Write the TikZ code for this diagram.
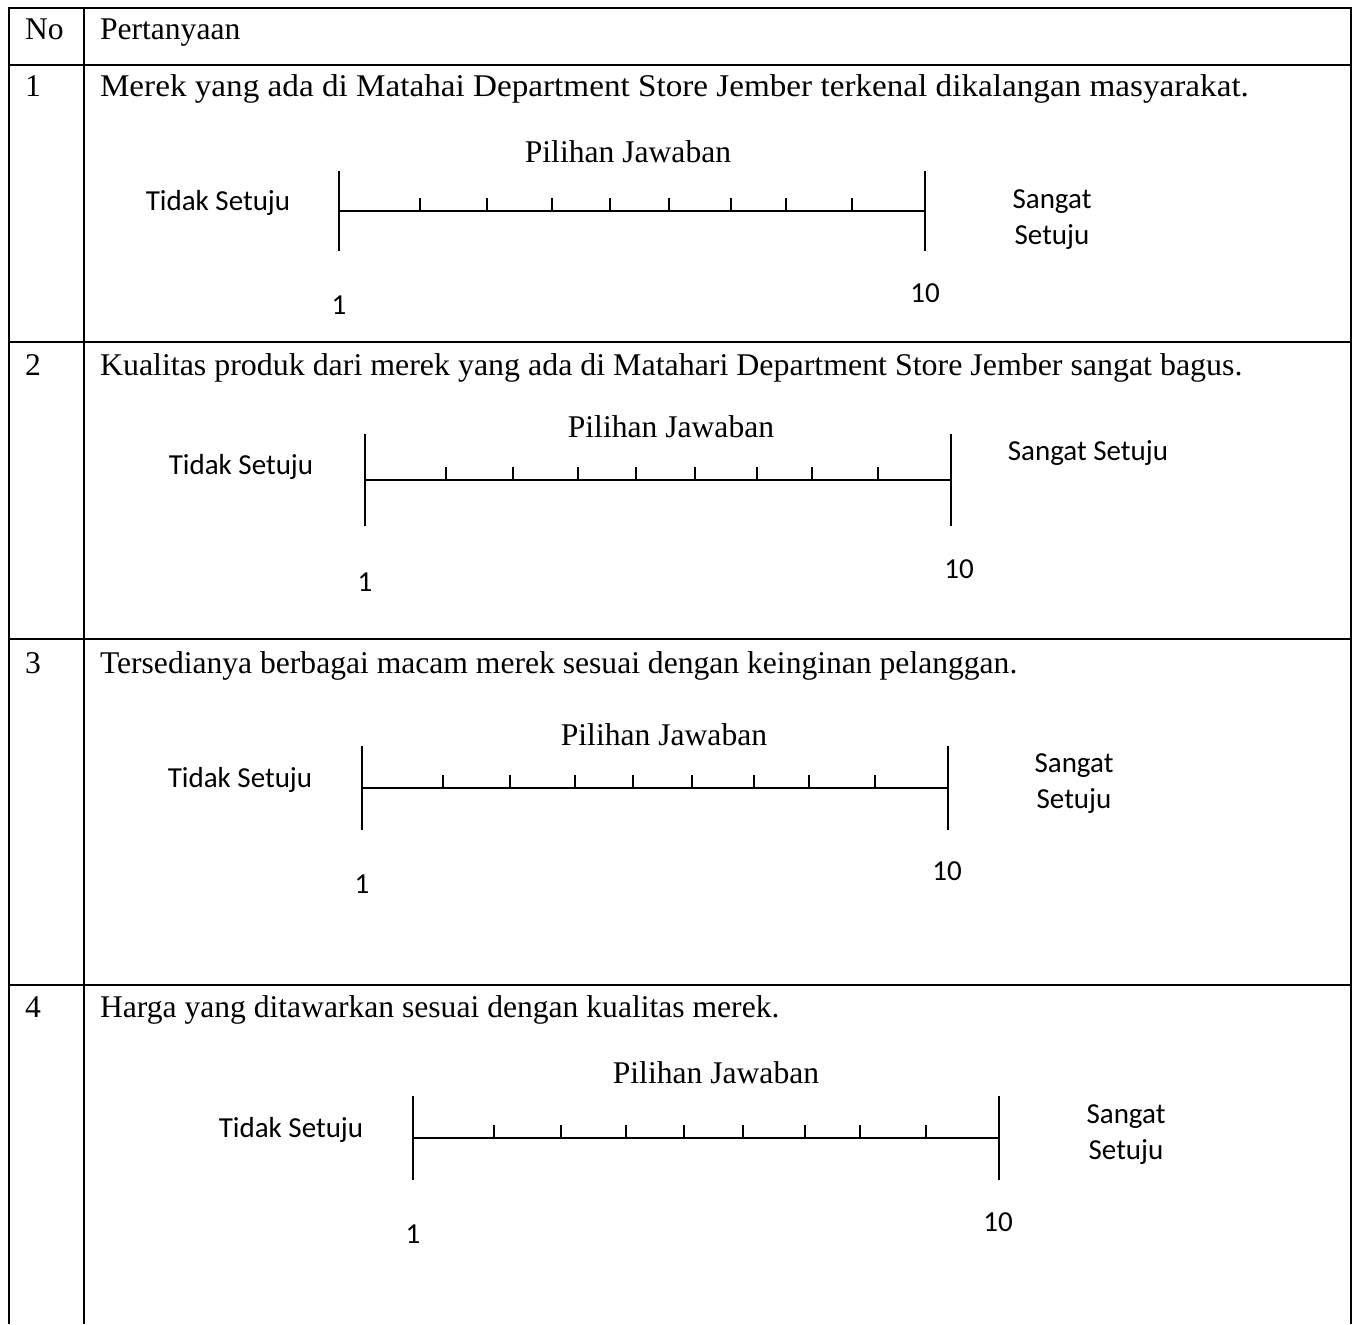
\documentclass[tikz,border=0pt]{standalone}
\usepackage{fontspec}
\usepackage{graphicx}
\setmainfont{Liberation Serif}
\newfontfamily\calfont{Carlito}
\newcommand\likertrow[4]{% #1 id, #2 left x, #3 axis y, #4 half-height of end bars
  \coordinate (#1L) at (#2,#3);
  \coordinate (#1R) at ({#2+586},#3);
  \coordinate (#1Lt) at (#2,{#3-#4});
  \coordinate (#1Lb) at (#2,{#3+#4});
  \coordinate (#1Rt) at ({#2+586},{#3-#4});
  \coordinate (#1Rb) at ({#2+586},{#3+#4});
  \draw[axisline] (#1L) -- (#1R);
  \draw[axisline] (#1Lt) -- (#1Lb);
  \draw[axisline] (#1Rt) -- (#1Rb);
  \foreach \o in {81,148,213,271,330,392,447,513}{
    \draw[tickmark] ({#2+\o},#3) -- ({#2+\o},{#3-13});
  }
}
\begin{document}
\begin{tikzpicture}[x=1pt,y=-1pt,
  every node/.style={inner sep=0pt, outer sep=0pt},
  tnr/.style={font=\fontsize{31.6}{38}\selectfont, anchor=base west},
  tnrc/.style={font=\fontsize{31.6}{38}\selectfont, anchor=base},
  cal/.style={font=\calfont\fontsize{29}{36}\selectfont, anchor=base},
  calml/.style={font=\calfont\fontsize{29}{36}\selectfont, align=center, anchor=center},
  tableline/.style={line width=2.3pt},
  axisline/.style={line width=1.8pt},
  tickmark/.style={line width=1.5pt}]
\useasboundingbox (0,0) rectangle (1356,1324);
\fill[white] (0,0) rectangle (1356,1324);
% table
\coordinate (TLb) at (9,1324);
\coordinate (TLt) at (9,8);
\coordinate (TRt) at (1351,8);
\coordinate (TRb) at (1351,1324);
\coordinate (Dt) at (84,8);
\coordinate (Db) at (84,1324);
\draw[tableline, line join=miter] (TLb) -- (TLt) -- (TRt) -- (TRb);
\draw[tableline] (Dt) -- (Db);
\foreach \yy/\nm in {65/h0,342/h1,639/h2,985/h3}{
  \coordinate (\nm a) at (9,\yy);
  \coordinate (\nm b) at (1351,\yy);
  \draw[tableline] (\nm a) -- (\nm b);
}
% header
\node[tnr] (hno) at (25,40) {No};
\node[tnr] (hq) at (100,40) {Pertanyaan};
% row numbers and questions
\node[tnr] (n1) at (25,97) {1};
\node[tnr] (q1) at (100,97) {\scalebox{1.05}[1]{Merek yang ada di Matahai Department Store Jember terkenal dikalangan masyarakat.}};
\node[tnr] (n2) at (25,375) {2};
\node[tnr] (q2) at (100,375) {\scalebox{1.01}[1]{Kualitas produk dari merek yang ada di Matahari Department Store Jember sangat bagus.}};
\node[tnr] (n3) at (25,673) {3};
\node[tnr] (q3) at (100,673) {Tersedianya berbagai macam merek sesuai dengan keinginan pelanggan.};
\node[tnr] (n4) at (25,1017) {4};
\node[tnr] (q4) at (100,1017) {Harga yang ditawarkan sesuai dengan kualitas merek.};
% row 1 scale
\likertrow{a}{339}{211}{40}
\node[tnrc] (pa) at (628,163) {Pilihan Jawaban};
\node[cal] (ta) at (218,211) {Tidak Setuju};
\node[calml] (sa) at (1052,220) {Sangat\\Setuju};
\node[cal] (oa) at (339,314) {1};
\node[cal] (za) at (925,302) {10};
% row 2 scale
\likertrow{b}{365}{480}{46}
\node[tnrc] (pb) at (671,437) {Pilihan Jawaban};
\node[cal] (tb) at (241,474) {Tidak Setuju};
\node[cal] (sb) at (1088,460) {Sangat Setuju};
\node[cal] (ob) at (365,591) {1};
\node[cal] (zb) at (959,578) {10};
% row 3 scale
\likertrow{c}{362}{788}{42}
\node[tnrc] (pc) at (664,745) {Pilihan Jawaban};
\node[cal] (tc) at (240,787) {Tidak Setuju};
\node[calml] (sc) at (1074,784) {Sangat\\Setuju};
\node[cal] (oc) at (362,893) {1};
\node[cal] (zc) at (947,880) {10};
% row 4 scale
\likertrow{d}{413}{1138}{42}
\node[tnrc] (pd) at (716,1083) {Pilihan Jawaban};
\node[cal] (td) at (291,1137) {Tidak Setuju};
\node[calml] (sd) at (1126,1135) {Sangat\\Setuju};
\node[cal] (od) at (413,1243) {1};
\node[cal] (zd) at (998,1231) {10};
\end{tikzpicture}
\end{document}
